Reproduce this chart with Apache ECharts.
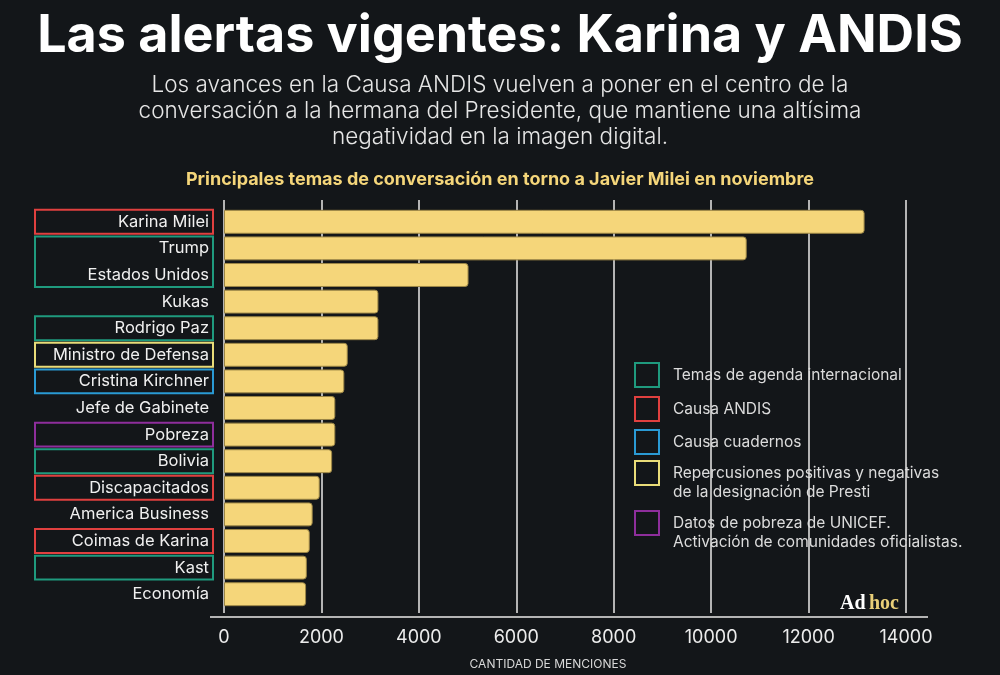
<!DOCTYPE html>
<html>
<head>
<meta charset="utf-8">
<script src="https://cdn.jsdelivr.net/npm/echarts@6/dist/echarts.min.js"></script>
<style>
  html, body { margin: 0; padding: 0; background: #131619; }
  #container { width: 1000px; height: 675px; }
</style>
</head>
<body>
<div id="container"></div>
<script>
'use strict';
// temas y menciones
var categories = ['Karina Milei', 'Trump', 'Estados Unidos', 'Kukas', 'Rodrigo Paz',
  'Ministro de Defensa', 'Cristina Kirchner', 'Jefe de Gabinete', 'Pobreza', 'Bolivia',
  'Discapacitados', 'America Business', 'Coimas de Karina', 'Kast', 'Economía'];
var mentions = [13150, 10730, 5020, 3170, 3170, 2540, 2470, 2285, 2285, 2220,
  1965, 1820, 1760, 1700, 1685];

var xTicks = [0, 14000, 2000]; // min, max, interval

// grupos de temas (recuadros de colores)
var topicNames = [
  'Temas de agenda internacional',
  'Causa ANDIS',
  'Causa cuadernos',
  'Repercusiones positivas y negativas\nde la designación de Presti',
  'Datos de pobreza de UNICEF.\nActivación de comunidades oficialistas.'
];
var topicColors = ['#1f9a7e', '#e0403f', '#2a9ad4', '#e9dc78', '#8e2e9c'];
var topicRows = [
  [['Trump', 'Estados Unidos'], ['Rodrigo Paz'], ['Bolivia'], ['Kast']],
  [['Karina Milei'], ['Discapacitados'], ['Coimas de Karina']],
  [['Cristina Kirchner']],
  [['Ministro de Defensa']],
  [['Pobreza']]
];

var FONT = 'Inter, "Noto Sans", sans-serif';
var dom = document.getElementById('container');
var myChart = echarts.init(dom);

function boxSeries(idx) {
  var color = topicColors[idx];
  var data = topicRows[idx].map(function (r) {
    var a = categories.indexOf(r[0]);
    var b = categories.indexOf(r[r.length - 1]);
    return [0, a, b];
  });
  return {
    type: 'custom',
    name: topicNames[idx],
    xAxisIndex: 1,
    yAxisIndex: 1,
    clip: false,
    silent: true,
    encode: { x: 0, y: 1 },
    itemStyle: { color: 'transparent', borderColor: color, borderWidth: 2 },
    data: data,
    renderItem: function (params, api) {
      var p0 = api.coord([0, api.value(1)]);
      var p1 = api.coord([0, api.value(2)]);
      var half = api.size([0, 1])[1] * 0.45;
      return {
        type: 'rect',
        shape: { x: p0[0] - 189, y: p0[1] - half, width: 178, height: p1[1] - p0[1] + 2 * half },
        style: { fill: 'none', stroke: color, lineWidth: 2 }
      };
    }
  };
}

// una leyenda por tema; los textos de dos líneas llevan una línea vacía arriba
// para que el cuadrado quede a la altura de la primera línea
var legendTops = [362, 396, 429, 444.5, 494.5];
var legends = topicNames.map(function (n, k) {
  var twoLines = n.indexOf('\n') >= 0;
  return {
    orient: 'vertical',
    left: 634,
    top: legendTops[k],
    padding: 0,
    itemWidth: 24,
    itemHeight: 24,
    selectedMode: false,
    icon: 'rect',
    formatter: function (name) { return twoLines ? '\n' + name : name; },
    textStyle: {
      color: '#dcdcdc', fontSize: 15.5, lineHeight: 19, fontFamily: FONT,
      padding: [0, 0, 0, 9]
    },
    data: [{ name: n, itemStyle: { color: 'transparent', borderColor: topicColors[k], borderWidth: 2 } }]
  };
});

var series = [{
  type: 'bar',
  xAxisIndex: 1,
  yAxisIndex: 1,
  data: mentions,
  barCategoryGap: '10%',
  silent: true,
  itemStyle: {
    color: '#f5d67a',
    borderColor: '#9c8646',
    borderWidth: 1,
    borderRadius: [0, 3, 3, 0]
  }
}];
for (var i = 0; i < topicNames.length; i++) series.push(boxSeries(i));

var option = {
  backgroundColor: '#131619',
  animation: false,
  title: [{
    text: 'Las alertas vigentes: Karina y ANDIS',
    left: 'center',
    top: 5,
    textStyle: { color: '#ffffff', fontSize: 52, fontWeight: 700, fontFamily: FONT }
  }, {
    text: 'Los avances en la Causa ANDIS vuelven a poner en el centro de la\n' +
      'conversación a la hermana del Presidente, que mantiene una altísima\n' +
      'negatividad en la imagen digital.',
    left: 'center',
    top: 67,
    textStyle: { color: '#e6e6e6', fontSize: 22.5, fontWeight: 300, lineHeight: 26, fontFamily: FONT }
  }, {
    text: 'Principales temas de conversación en torno a Javier Milei en noviembre',
    left: 'center',
    top: 166,
    textStyle: { color: '#f5d67a', fontSize: 18, fontWeight: 700, fontFamily: FONT }
  }],
  legend: legends,
  grid: [
    { left: 224, width: 682, top: 200, height: 417 },
    { left: 224, width: 682, top: 208.5, height: 399 }
  ],
  xAxis: [{
    gridIndex: 0,
    type: 'value',
    min: xTicks[0],
    max: xTicks[1],
    interval: xTicks[2],
    name: 'CANTIDAD DE MENCIONES',
    nameLocation: 'middle',
    nameGap: 45,
    nameTextStyle: { color: '#d8d8d8', fontSize: 12, fontFamily: FONT, padding: [0, 34, 0, 0] },
    axisLine: { show: false },
    axisTick: { show: false },
    axisLabel: {
      color: '#ececec', fontSize: 18, margin: 16, fontFamily: FONT,
      formatter: function (v) { return String(v); }
    },
    splitLine: { show: true, lineStyle: { color: '#b4b4b4', width: 2 } }
  }, {
    gridIndex: 1,
    type: 'value',
    min: xTicks[0],
    max: xTicks[1],
    show: false
  }],
  yAxis: [{
    gridIndex: 0,
    type: 'value',
    show: false
  }, {
    gridIndex: 1,
    type: 'category',
    inverse: true,
    data: categories,
    axisLine: { show: false },
    axisTick: { show: false },
    axisLabel: { color: '#f0f0f0', fontSize: 16.5, margin: 15, fontFamily: FONT }
  }],
  graphic: [{
    type: 'line',
    shape: { x1: 210, y1: 617, x2: 928, y2: 617 },
    style: { stroke: '#b4b4b4', lineWidth: 2 },
    silent: true
  }, {
    type: 'text',
    right: 101,
    top: 594,
    style: {
      text: '{a|Ad} {b|hoc}',
      rich: {
        a: { fill: '#ffffff', fontSize: 20, fontWeight: 700, fontFamily: '"Liberation Serif", serif' },
        b: { fill: '#e9cf78', fontSize: 20, fontWeight: 700, fontFamily: '"Liberation Serif", serif' }
      }
    },
    silent: true
  }],
  series: series
};

myChart.setOption(option);
</script>
</body>
</html>
